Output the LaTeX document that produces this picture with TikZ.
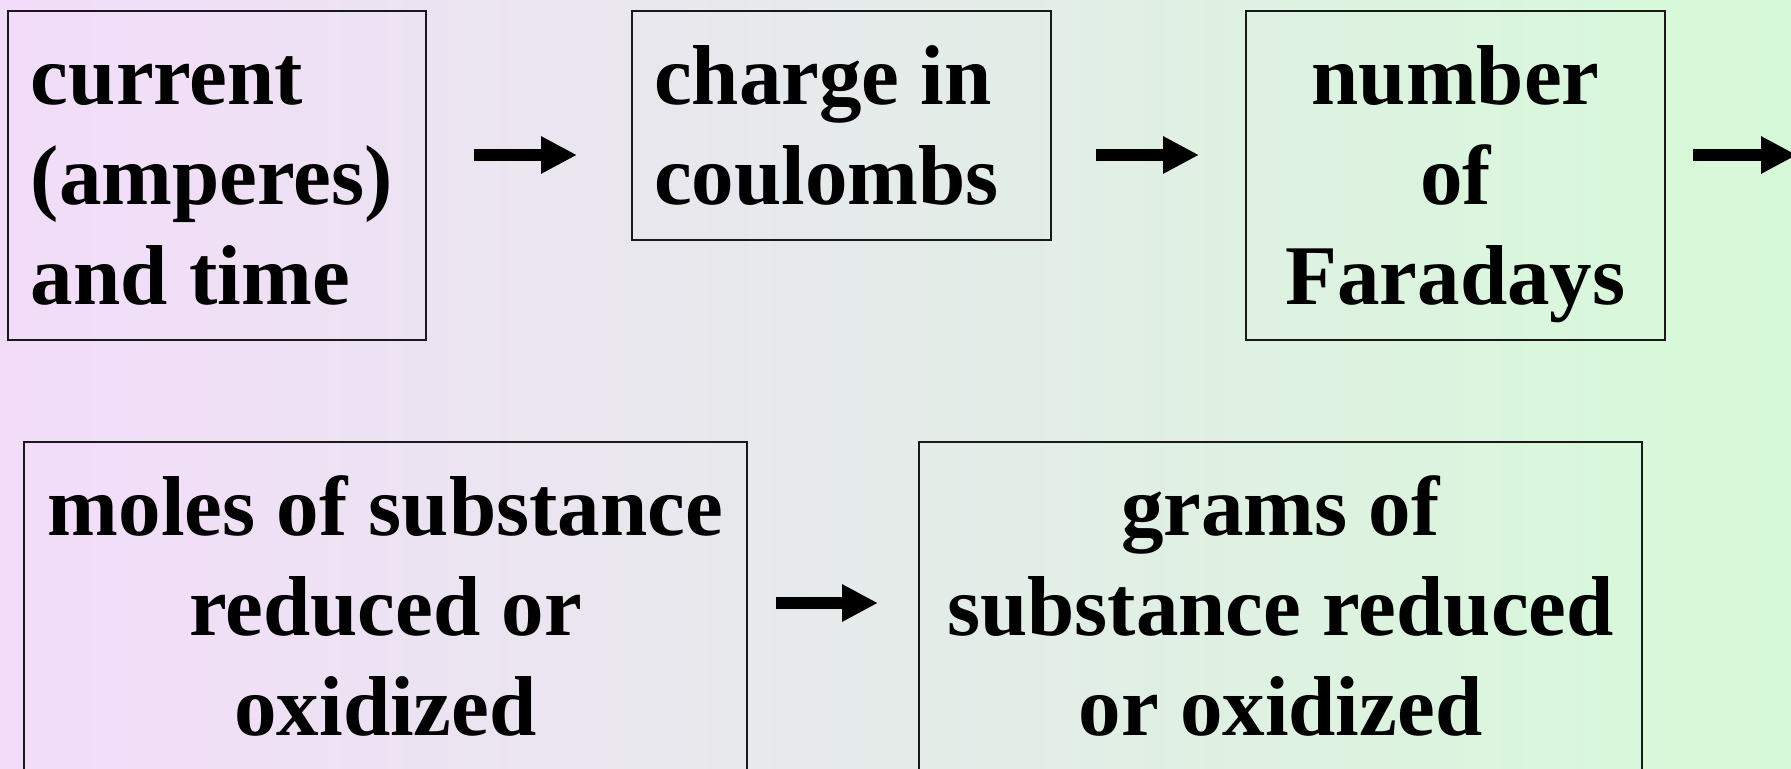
\documentclass[tikz,border=0pt]{standalone}
\usepackage{fontspec}
\setmainfont{Liberation Serif}
\usetikzlibrary{arrows.meta}
\definecolor{bgleft}{RGB}{243,220,250}
\definecolor{bgright}{RGB}{214,250,216}
\definecolor{edge}{RGB}{25,25,25}
\begin{document}
\begin{tikzpicture}[x=0.5pt,y=-0.5pt,
  box/.style={draw=edge, line width=1pt, rectangle, inner sep=0pt, outer sep=0pt},
  txt/.style={inner sep=0pt, outer sep=0pt, font=\fontsize{42.5pt}{50pt}\selectfont\bfseries},
  arr/.style={line width=6pt, -{Triangle[length=18pt,width=17.5pt]}}]
\useasboundingbox (0,0) rectangle (1791,769);
\clip (0,0) rectangle (1791,769);
\shade[left color=bgleft, right color=bgright] (0,0) rectangle (1791,769);

\node[box, minimum width=209pt, minimum height=164.5pt] (b1) at (217,175.5) {};
\node[box, minimum width=209.5pt, minimum height=114.5pt] (b2) at (841.5,125.5) {};
\node[box, minimum width=209.5pt, minimum height=164.5pt] (b3) at (1455.5,175.5) {};
\node[box, minimum width=361.5pt, minimum height=179pt] (b4) at (385.5,621) {};
\node[box, minimum width=361.5pt, minimum height=179pt] (b5) at (1280.5,621) {};

\node[txt, anchor=north west, align=left] (t1) at ([shift={(23,24)}]b1.north west)
  {\strut current\\\strut (amperes)\\\strut and time};
\node[txt, anchor=north west, align=left] (t2) at ([shift={(22,24)}]b2.north west)
  {\strut charge in\\\strut coulombs};
\node[txt, anchor=north, align=center] (t3) at ([shift={(0,24)}]b3.north)
  {\strut number\\\strut of\\\strut Faradays};
\node[txt, anchor=north, align=center] (t4) at ([shift={(0,23)}]b4.north)
  {\strut moles of substance\\\strut reduced or\\\strut oxidized};
\node[txt, anchor=north, align=center] (t5) at ([shift={(0,23)}]b5.north)
  {\strut grams of\\\strut substance reduced\\\strut or oxidized};

\coordinate (c3) at (1797,155);
\draw[arr] ([shift={(48,-20.5)}]b1.east) -- ([shift={(-55,29.5)}]b2.west);
\draw[arr] ([shift={(45,29.5)}]b2.east) -- ([shift={(-47,-20.5)}]b3.west);
\draw[arr] ([shift={(28,-20.5)}]b3.east) -- (c3);
\draw[arr] ([shift={(29,-18)}]b4.east) -- ([shift={(-41,-18)}]b5.west);
\end{tikzpicture}
\end{document}
